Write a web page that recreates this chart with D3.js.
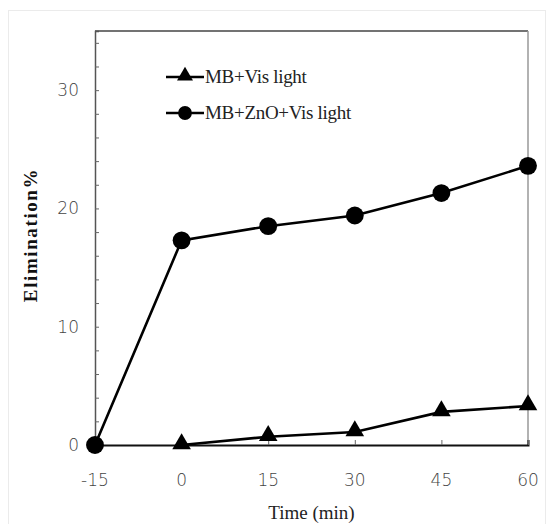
<!DOCTYPE html>
<html>
<head>
<meta charset="utf-8">
<script src="https://cdn.jsdelivr.net/npm/d3@7"></script>
<style>
  body { margin: 0; background: #fff; }
</style>
</head>
<body>
<svg id="chart"></svg>
<script>
// data
const times = [-15, 0, 15, 30, 45, 60];
const visLight = [null, 0, 0.7, 1.1, 2.8, 3.3];
const znoVisLight = [0, 17.3, 18.5, 19.4, 21.3, 23.6];
const seriesNames = ['MB+Vis light', 'MB+ZnO+Vis light'];
const yLabels = [0, 10, 20, 30];

const width = 555;
const height = 524;
const svg = d3.select('#chart').attr('width', width).attr('height', height);

// faint outer frame
svg.append('rect')
  .attr('x', 8.5).attr('y', 10.5)
  .attr('width', 537).attr('height', 520)
  .attr('fill', 'none').attr('stroke', '#ebebeb');

const xScale = d3.scaleLinear().domain([-15, 60]).range([95, 528]);
const yScale = d3.scaleLinear().domain([0, 35]).range([445, 31]);

// frame of plot
svg.append('line')
  .attr('x1', xScale(-15)).attr('x2', xScale(60))
  .attr('y1', yScale(35)).attr('y2', yScale(35))
  .attr('stroke', '#444').attr('stroke-width', 1.3);
svg.append('line')
  .attr('x1', xScale(60)).attr('x2', xScale(60))
  .attr('y1', yScale(35)).attr('y2', yScale(0))
  .attr('stroke', '#999').attr('stroke-width', 1.5);

const yAxis = d3.axisRight(yScale)
  .tickValues(d3.range(0, 36, 2))
  .tickSize(4)
  .tickFormat('');
const gy = svg.append('g').attr('transform', 'translate(' + xScale(-15) + ',0)').call(yAxis);
gy.select('.domain').attr('stroke', '#555').attr('stroke-width', 1.5);
gy.selectAll('.tick line').attr('stroke', '#666');

svg.selectAll('.ylab')
  .data(yLabels)
  .enter()
  .append('text')
  .attr('class', 'ylab')
  .attr('x', xScale(-15) - 16)
  .attr('y', (d) => yScale(d))
  .attr('dy', '0.35em')
  .attr('text-anchor', 'end')
  .style('font-family', 'DejaVu Sans, sans-serif')
  .style('font-weight', '300')
  .style('font-size', '17px')
  .attr('fill', '#444')
  .text((d) => d);

const xAxis = d3.axisTop(xScale).tickValues(times).tickSize(5).tickFormat('');
const gx = svg.append('g').attr('transform', 'translate(0,' + yScale(0) + ')').call(xAxis);
gx.select('.domain').attr('stroke', '#111').attr('stroke-width', 2);
gx.selectAll('.tick line').attr('stroke', '#666');

svg.selectAll('.xlab')
  .data(times)
  .enter()
  .append('text')
  .attr('class', 'xlab')
  .attr('x', (d) => xScale(d))
  .attr('y', 486)
  .attr('text-anchor', 'middle')
  .style('font-family', 'DejaVu Sans, sans-serif')
  .style('font-weight', '300')
  .style('font-size', '17px')
  .attr('fill', '#444')
  .text((d) => d);

// axis titles
svg.append('text')
  .attr('x', (xScale(-15) + xScale(60)) / 2)
  .attr('y', 519)
  .attr('text-anchor', 'middle')
  .style('font-family', 'Liberation Serif, serif')
  .style('font-size', '19px')
  .attr('fill', '#222')
  .text('Time (min)');

svg.append('text')
  .attr('transform', 'translate(37,235) rotate(-90)')
  .attr('text-anchor', 'middle')
  .style('font-family', 'Liberation Serif, serif')
  .style('font-weight', 'bold')
  .style('font-size', '19px')
  .style('letter-spacing', '1.6px')
  .attr('fill', '#111')
  .text('Elimination%');

// series
const line = d3.line()
  .defined((d) => d[1] !== null)
  .x((d) => xScale(d[0]))
  .y((d) => yScale(d[1]));

const triData = times.map((t, i) => [t, visLight[i]]);
const dotData = times.map((t, i) => [t, znoVisLight[i]]);

svg.append('path').datum(triData)
  .attr('d', line).attr('fill', 'none')
  .attr('stroke', '#000').attr('stroke-width', 2.6);
svg.append('path').datum(dotData)
  .attr('d', line).attr('fill', 'none')
  .attr('stroke', '#000').attr('stroke-width', 2.6);

const tri = d3.symbol().type(d3.symbolTriangle).size(150);
const dot = d3.symbol().type(d3.symbolCircle).size(250);

svg.selectAll('.tri')
  .data(triData.filter((d) => d[1] !== null))
  .enter()
  .append('path')
  .attr('class', 'tri')
  .attr('d', tri)
  .attr('transform', (d) => 'translate(' + xScale(d[0]) + ',' + (yScale(d[1]) - 1) + ')')
  .attr('fill', '#000');

svg.selectAll('.dot')
  .data(dotData)
  .enter()
  .append('path')
  .attr('class', 'dot')
  .attr('d', dot)
  .attr('transform', (d) => 'translate(' + xScale(d[0]) + ',' + yScale(d[1]) + ')')
  .attr('fill', '#000');

// legend
const legend = svg.append('g');
const legY = [77, 113];
seriesNames.forEach((name, i) => {
  legend.append('line')
    .attr('x1', 166).attr('x2', 204)
    .attr('y1', legY[i]).attr('y2', legY[i])
    .attr('stroke', '#000').attr('stroke-width', 2.6);
  legend.append('path')
    .attr('d', d3.symbol().type(i === 0 ? d3.symbolTriangle : d3.symbolCircle).size(i === 0 ? 110 : 150))
    .attr('transform', 'translate(185,' + (legY[i] - (i === 0 ? 1 : 0)) + ')')
    .attr('fill', '#000');
  legend.append('text')
    .attr('x', 205)
    .attr('y', legY[i])
    .attr('dy', '0.32em')
    .style('font-family', 'Liberation Serif, serif')
    .style('font-size', '19px')
    .style('letter-spacing', '-0.3px')
    .attr('fill', '#222')
    .text(name);
});
</script>
</body>
</html>
